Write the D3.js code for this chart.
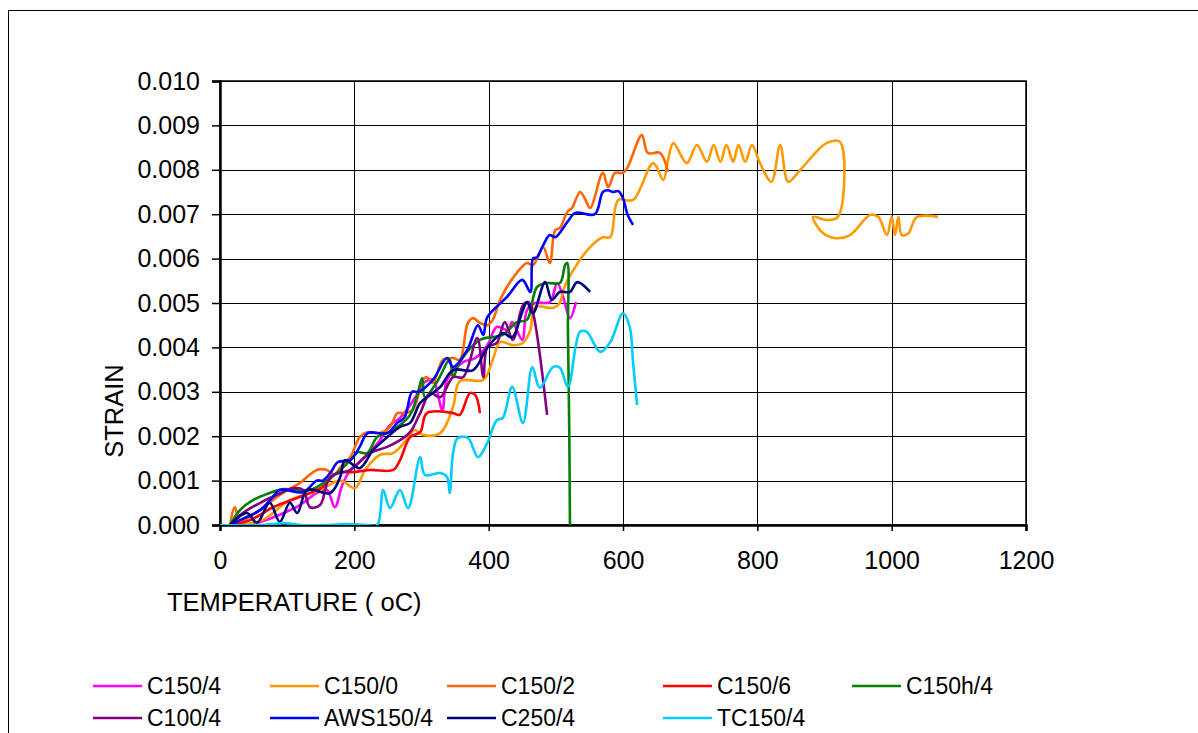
<!DOCTYPE html>
<html>
<head>
<meta charset="utf-8">
<script src="https://cdn.jsdelivr.net/npm/d3@7"></script>
<style>
  body { margin: 0; background: #fff; }
  svg { display: block; font-family: "Liberation Sans", Arial, sans-serif; }
</style>
</head>
<body>
<svg id="chart" width="1198" height="733"></svg>
<script>
// tick values
const xTicks = [0, 200, 400, 600, 800, 1000, 1200];
const yTicks = [0, 0.001, 0.002, 0.003, 0.004, 0.005, 0.006, 0.007, 0.008, 0.009, 0.010];

// each series: [temperature, strain]
const c150_4 = [[30,0],[60,0.00007],[89,0.00023],[119,0.00045],[144,0.00072],[159,0.00079],[171,0.0004],[182,0.0009],
  [194,0.00124],[208,0.00142],[226,0.00169],[238,0.00191],[253,0.00225],[268,0.00241],[283,0.0027],[293,0.00293],
  [305,0.00322],[317,0.00327],[331,0.00259],[338,0.00327],[362,0.00367],[380,0.00376],[398,0.00405],[412,0.00446],
  [429,0.00439],[435,0.00457],[450,0.00417],[457,0.00484],[469,0.005],[491,0.00502],[502,0.00545],[511,0.00513],
  [521,0.00466],[530,0.00502]];

const c150_0 = [[30,0],[63,0.00011],[104,0.00056],[149,0.00079],[179,0.001],[201,0.00083],[216,0.00124],[238,0.00158],
  [258,0.00162],[275,0.00187],[290,0.00214],[302,0.00203],[328,0.00207],[347,0.00266],[357,0.00324],[392,0.00327],
  [406,0.00372],[417,0.00412],[436,0.00405],[451,0.0041],[462,0.00439],[469,0.00491],[496,0.00489],[506,0.005],
  [511,0.00529],[526,0.00574],[551,0.00626],[570,0.00648],[581,0.00648],[593,0.00732],[615,0.00732],[645,0.00815],
  [660,0.00777],[667,0.00822],[675,0.0086],[695,0.00815],[710,0.00856],[725,0.00818],[735,0.00856],[745,0.00818],
  [754,0.00856],[764,0.00818],[772,0.00856],[782,0.00818],[792,0.00856],[804,0.00815],[821,0.00773],[834,0.00856],
  [846,0.00773],[864,0.008],[903,0.0086],[923,0.00863],[920,0.00694],[903,0.00687],[883,0.00694],[898,0.00657],
  [918,0.00646],[938,0.00653],[968,0.00698],[980,0.00694],[993,0.00653],[1000,0.00694],[1005,0.00653],[1010,0.00694],
  [1015,0.00653],[1025,0.00657],[1037,0.00693],[1069,0.00694]];

const c150_2 = [[15,0],[22,0.0004],[30,0.0001],[60,0.00034],[89,0.00068],[119,0.00095],[144,0.00124],[159,0.00124],
  [171,0.00113],[179,0.0013],[194,0.00153],[208,0.00198],[219,0.00209],[238,0.00207],[253,0.00221],[264,0.00252],
  [272,0.00252],[287,0.00259],[302,0.00327],[308,0.00333],[317,0.0032],[332,0.00372],[347,0.00376],[357,0.00372],
  [369,0.00455],[377,0.00466],[387,0.00455],[398,0.0045],[406,0.00462],[417,0.00507],[436,0.00556],[457,0.0059],
  [466,0.00585],[481,0.00626],[491,0.0059],[499,0.00664],[506,0.00669],[517,0.00705],[524,0.00714],[536,0.0075],
  [543,0.00736],[551,0.00714],[570,0.00793],[578,0.00761],[588,0.00793],[600,0.00793],[607,0.00806],[628,0.00878],
  [637,0.00838],[655,0.00838],[667,0.00795]];

const c150_6 = [[15,0],[45,0.00011],[79,0.0004],[115,0.00061],[134,0.00072],[153,0.00086],[174,0.00117],[198,0.00119],
  [223,0.00124],[258,0.00124],[268,0.00146],[283,0.00198],[298,0.00209],[308,0.00252],[347,0.00252],[357,0.00248],
  [372,0.00297],[380,0.00293],[387,0.00252]];

const c150h_4 = [[15,0],[30,0.00034],[49,0.00056],[74,0.00072],[94,0.00081],[134,0.00079],[179,0.00124],[198,0.00153],
  [205,0.00164],[219,0.00162],[234,0.00198],[249,0.00207],[268,0.00225],[283,0.00248],[293,0.00288],[301,0.00331],
  [305,0.00288],[323,0.00322],[342,0.00372],[347,0.00333],[357,0.00367],[387,0.00417],[421,0.00428],[442,0.00457],
  [457,0.00462],[472,0.00536],[488,0.00545],[506,0.00545],[514,0.00586],[517,0.0059],[518,0.0044],[520,0.0021],[521,0]];

const c100_4 = [[15,0],[34,0.00027],[60,0.0005],[85,0.00068],[109,0.00083],[124,0.00079],[134,0.0004],[149,0.00045],
  [164,0.00108],[194,0.00124],[223,0.00162],[249,0.00176],[268,0.00191],[283,0.00209],[298,0.00252],[313,0.00297],
  [328,0.00288],[347,0.00333],[362,0.00333],[383,0.00421],[392,0.00333],[398,0.004],[412,0.0041],[424,0.00457],
  [436,0.00417],[451,0.00495],[459,0.00502],[465,0.00484],[487,0.00248]];

const aws150_4 = [[15,0],[37,0.00016],[60,0.00034],[77,0.0006],[89,0.00079],[124,0.00074],[144,0.001],[153,0.001],
  [164,0.00117],[176,0.00142],[194,0.00146],[208,0.00176],[220,0.00207],[249,0.00207],[264,0.0023],[275,0.00243],
  [286,0.003],[295,0.003],[317,0.00327],[338,0.00376],[347,0.00356],[368,0.00394],[384,0.0045],[392,0.00428],
  [398,0.00468],[427,0.00513],[450,0.00552],[462,0.00525],[466,0.006],[472,0.00603],[481,0.0063],[491,0.00653],
  [499,0.00648],[517,0.00682],[529,0.00703],[558,0.007],[570,0.0075],[578,0.00754],[585,0.0075],[593,0.00752],
  [600,0.00736],[607,0.00698],[615,0.00676]];

const c250_4 = [[15,0],[40,0.00027],[55,0.00005],[74,0.0005],[89,0.00007],[104,0.0005],[115,0.00027],[130,0.00079],
  [164,0.00072],[179,0.00108],[186,0.00146],[208,0.00128],[228,0.00169],[249,0.00198],[268,0.00221],[283,0.0023],
  [298,0.00275],[313,0.00293],[328,0.00311],[347,0.00349],[377,0.00349],[398,0.004],[421,0.00432],[435,0.00423],
  [450,0.0048],[457,0.00502],[466,0.00477],[484,0.00547],[494,0.00507],[506,0.00525],[521,0.00525],[532,0.00547],
  [551,0.00525]];

const tc150_4 = [[0,0],[60,0],[97,0.00004],[119,0],[164,0],[186,0.00002],[219,0],[234,0],[243,0.00079],[253,0.00038],
  [268,0.00079],[280,0.00038],[298,0.00153],[305,0.00113],[328,0.00117],[338,0.00108],[342,0.00072],[347,0.00162],
  [354,0.00196],[369,0.00196],[384,0.00153],[398,0.00185],[412,0.00236],[421,0.00241],[435,0.00311],[451,0.0023],
  [465,0.00356],[476,0.00309],[496,0.00356],[506,0.00354],[518,0.00311],[536,0.00435],[546,0.00435],[566,0.0039],
  [581,0.00412],[600,0.00477],[610,0.00446],[615,0.00365],[621,0.0027]];

const seriesNames = ["C150/4", "C150/0", "C150/2", "C150/6", "C150h/4", "C100/4", "AWS150/4", "C250/4", "TC150/4"];
const seriesData = [c150_4, c150_0, c150_2, c150_6, c150h_4, c100_4, aws150_4, c250_4, tc150_4];
const seriesColors = ["#FF00FF", "#FF9900", "#FF6600", "#FF0000", "#008000", "#800080", "#0000FF", "#000080", "#00CCFF"];

const svg = d3.select("#chart");
const plotLeft = 220, plotRight = 1026, plotTop = 81, plotBottom = 525;

let x = d3.scaleLinear().domain([0, 1200]).range([plotLeft, plotRight]);
let y = d3.scaleLinear().domain([0, 0.010]).range([plotBottom, plotTop]);

// outer chart border
svg.append("rect")
  .attr("x", 8.5).attr("y", 10.5)
  .attr("width", 1250).attr("height", 800)
  .attr("fill", "none").attr("stroke", "#000").attr("stroke-width", 1);

// grid
svg.append("g").selectAll("line").data(yTicks.slice(1))
  .enter().append("line")
  .attr("x1", plotLeft).attr("x2", plotRight)
  .attr("y1", d => Math.round(y(d)) + 0.5).attr("y2", d => Math.round(y(d)) + 0.5)
  .attr("stroke", "#000").attr("stroke-width", 1);
svg.append("g").selectAll("line").data(xTicks.slice(1))
  .enter().append("line")
  .attr("y1", plotTop).attr("y2", plotBottom)
  .attr("x1", d => Math.round(x(d)) + 0.5).attr("x2", d => Math.round(x(d)) + 0.5)
  .attr("stroke", "#000").attr("stroke-width", 1);

// plot border
svg.append("rect")
  .attr("x", plotLeft).attr("y", plotTop)
  .attr("width", plotRight - plotLeft).attr("height", plotBottom - plotTop)
  .attr("fill", "none").attr("stroke", "#000").attr("stroke-width", 1.5);

// axes
let yAxis = d3.axisLeft(y).tickValues(yTicks).tickFormat(d3.format(".3f")).tickSize(8).tickPadding(12);
let gy = svg.append("g").attr("transform", `translate(${plotLeft},0)`).call(yAxis);
let xAxis = d3.axisBottom(x).tickValues(xTicks).tickFormat(d3.format("d")).tickSize(6).tickPadding(20);
let gx = svg.append("g").attr("transform", `translate(0,${plotBottom})`).call(xAxis);
[gx, gy].forEach(g => {
  g.selectAll("text").attr("font-size", 25).attr("font-family", "Liberation Sans, Arial, sans-serif").attr("fill", "#000");
  g.selectAll("line").attr("stroke", "#000").attr("stroke-width", 1.5);
  g.select(".domain").attr("stroke", "#000").attr("stroke-width", 2.5);
});

// axis titles
svg.append("text").attr("x", 167).attr("y", 611)
  .attr("font-size", 25.5).text("TEMPERATURE ( oC)");
svg.append("text")
  .attr("transform", "translate(123,411) rotate(-90)")
  .attr("text-anchor", "middle").attr("font-size", 25.5).text("STRAIN");

// series
svg.append("clipPath").attr("id", "plotclip")
  .append("rect").attr("x", plotLeft).attr("y", plotTop - 5).attr("width", plotRight - plotLeft).attr("height", plotBottom - plotTop + 5);

let line = d3.line()
  .x(d => x(d[0]))
  .y(d => y(d[1]))
  .curve(d3.curveCatmullRom.alpha(0.5));

svg.append("g").attr("clip-path", "url(#plotclip)")
  .selectAll("path").data(seriesData)
  .enter().append("path")
  .attr("d", d => line(d))
  .attr("fill", "none")
  .attr("stroke", (d, i) => seriesColors[i])
  .attr("stroke-width", 2.6)
  .attr("stroke-linejoin", "round");

// legend
let legX = [93, 270, 447, 663, 852];
let legY = [686, 718];
let leg = svg.append("g").selectAll("g").data(seriesNames)
  .enter().append("g")
  .attr("transform", (d, i) => `translate(${legX[i % 5]},${legY[Math.floor(i / 5)]})`);
leg.append("line")
  .attr("x1", 0).attr("x2", 49).attr("y1", 0).attr("y2", 0)
  .attr("stroke", (d, i) => seriesColors[i]).attr("stroke-width", 2.6);
leg.append("text")
  .attr("x", 54).attr("y", 8)
  .attr("font-size", 23).text(d => d);
</script>
</body>
</html>
